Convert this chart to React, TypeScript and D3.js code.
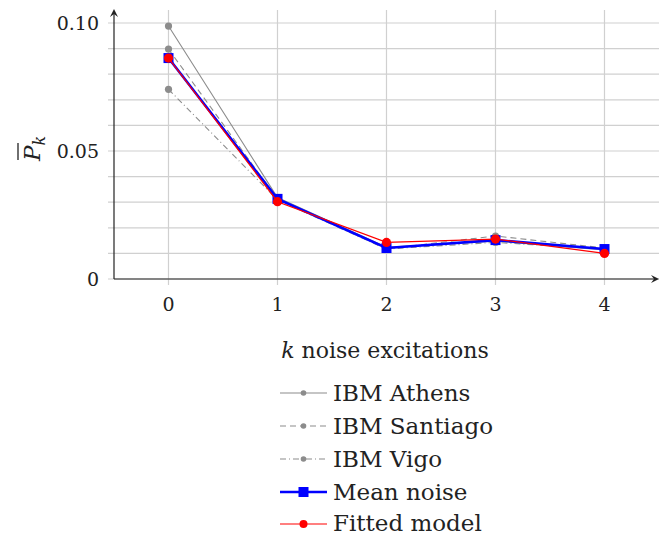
import React from "react";
import * as d3 from "d3";

const ks = [0, 1, 2, 3, 4];
const athens = [0.0988, 0.0318, 0.0124, 0.0148, 0.0113];
const santiago = [0.0898, 0.0312, 0.0118, 0.0168, 0.0121];
const vigo = [0.0741, 0.0309, 0.0117, 0.0143, 0.0117];
const meanNoise = [0.0863, 0.0313, 0.0121, 0.0152, 0.0117];
const fitted = [0.0863, 0.0302, 0.0143, 0.0156, 0.0100];
const yMajor = [0, 0.05, 0.1];
const yMajorLabels = ["0", "0.05", "0.10"];
const yMinor = d3.range(0, 0.1001, 0.01);

const FONT = "DejaVu Serif";

export default function App() {
  const W = 671, H = 534;
  const x = d3.scaleLinear().domain([-0.5, 4.5]).range([114, 659]);
  const y = d3.scaleLinear().domain([0, 0.105]).range([279, 10.2]);
  const line = d3.line<number>().x((_, i) => x(ks[i])).y((v) => y(v));

  const greySeries = [
    { name: "IBM Athens", data: athens, dash: "none" },
    { name: "IBM Santiago", data: santiago, dash: "6,4" },
    { name: "IBM Vigo", data: vigo, dash: "6,3,1,3" },
  ];
  const grey = "#8c8c8c";
  const legendY = [393, 426, 459, 492, 524];

  return (
    <svg width={W} height={H} style={{ position: "absolute", left: 0, top: 0 }}>
      <rect width={W} height={H} fill="white" />
      {/* grid */}
      {yMinor.map((v, i) => (
        <line key={"hg" + i} x1={108} x2={659} y1={y(v)} y2={y(v)} stroke="#d0d0d0" strokeWidth={1.2} />
      ))}
      {ks.map((k) => (
        <line key={"vg" + k} x1={x(k)} x2={x(k)} y1={10} y2={285} stroke="#d0d0d0" strokeWidth={1.2} />
      ))}
      {/* axes */}
      <line x1={114} x2={114} y1={279} y2={12} stroke="#222" strokeWidth={1.2} />
      <path d="M114,9 L110,17 L114,14 L118,17 Z" fill="#222" />
      <line x1={114} x2={656} y1={279} y2={279} stroke="#222" strokeWidth={1.2} />
      <path d="M659,279 L651,275 L654,279 L651,283 Z" fill="#222" />
      {/* tick labels */}
      {yMajor.map((v, i) => (
        <text key={"yl" + i} x={99} y={y(v) + 7} textAnchor="end" fontFamily={FONT} fontSize={19} fill="#222">
          {yMajorLabels[i]}
        </text>
      ))}
      {ks.map((k) => (
        <text key={"xl" + k} x={x(k)} y={311} textAnchor="middle" fontFamily={FONT} fontSize={19} fill="#222">
          {k}
        </text>
      ))}
      {/* axis labels */}
      <g transform="translate(40,161) rotate(-90)">
        <text x={0} y={0} fontFamily={FONT} fontSize={23} fill="#222">
          <tspan fontStyle="italic">P</tspan>
          <tspan fontStyle="italic" fontSize={16} dy={5}>k</tspan>
        </text>
        <line x1={1} x2={18} y1={-22} y2={-22} stroke="#222" strokeWidth={1.3} />
      </g>
      <text x={385} y={358} textAnchor="middle" fontFamily={FONT} fontSize={22} fill="#222">
        <tspan fontStyle="italic">k</tspan> noise excitations
      </text>
      {/* series */}
      {greySeries.map((s) => (
        <g key={s.name}>
          <path d={line(s.data) || ""} fill="none" stroke={grey} strokeWidth={1.1} strokeDasharray={s.dash} />
          {s.data.map((v, i) => (
            <circle key={i} cx={x(ks[i])} cy={y(v)} r={3.6} fill={grey} />
          ))}
        </g>
      ))}
      <path d={line(meanNoise) || ""} fill="none" stroke="#0000ff" strokeWidth={2.6} />
      {meanNoise.map((v, i) => (
        <rect key={"m" + i} x={x(ks[i]) - 5} y={y(v) - 5} width={10} height={10} fill="#0000ff" />
      ))}
      <path d={line(fitted) || ""} fill="none" stroke="#ff0000" strokeWidth={1.2} />
      {fitted.map((v, i) => (
        <circle key={"f" + i} cx={x(ks[i])} cy={y(v)} r={4.6} fill="#ff0000" />
      ))}
      {/* legend */}
      {greySeries.map((s, i) => (
        <g key={"lg" + i}>
          <line x1={280} x2={327} y1={legendY[i]} y2={legendY[i]} stroke={grey} strokeWidth={1.1} strokeDasharray={s.dash} />
          <circle cx={303.5} cy={legendY[i]} r={2.8} fill={grey} />
          <text x={333} y={legendY[i] + 8} fontFamily={FONT} fontSize={23} fill="#222">{s.name}</text>
        </g>
      ))}
      <g>
        <line x1={280} x2={327} y1={legendY[3]} y2={legendY[3]} stroke="#0000ff" strokeWidth={2.6} />
        <rect x={298.5} y={legendY[3] - 5} width={10} height={10} fill="#0000ff" />
        <text x={333} y={legendY[3] + 8} fontFamily={FONT} fontSize={23} fill="#222">Mean noise</text>
      </g>
      <g>
        <line x1={280} x2={327} y1={legendY[4]} y2={legendY[4]} stroke="#ff0000" strokeWidth={1.2} />
        <circle cx={303.5} cy={legendY[4]} r={4} fill="#ff0000" />
        <text x={333} y={legendY[4] + 7} fontFamily={FONT} fontSize={23} fill="#222">Fitted model</text>
      </g>
    </svg>
  );
}
